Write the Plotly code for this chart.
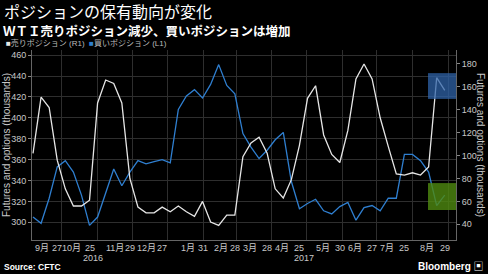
import plotly.graph_objects as go
import pandas as pd

# ---- data ----
dates = pd.date_range("2016-09-06", periods=52, freq="7D")

sell_positions = [102, 151, 142, 96, 71, 56, 56, 61, 146, 166, 163, 146, 80, 55,
                  50, 50, 55, 51, 56, 51, 47, 60, 42, 39, 48, 48, 99, 111, 116,
                  102, 71, 63, 79, 109, 150, 161, 118, 101, 94, 122, 167, 180,
                  167, 133, 108, 84, 83, 85, 83, 90, 168, 157]

buy_positions = [305, 299, 323, 353, 359, 348, 326, 297, 305, 328, 351, 335, 348,
                 359, 356, 358, 360, 357, 408, 421, 427, 419, 432, 451, 431, 423,
                 385, 372, 361, 369, 379, 386, 339, 313, 318, 322, 311, 308, 315,
                 319, 302, 314, 316, 311, 323, 323, 365, 365, 359, 348, 316, 326]

tick_dates = ["2016-09-14", "2016-09-27", "2016-10-09", "2016-10-25", "2016-11-16",
              "2016-11-29", "2016-12-13", "2016-12-27", "2017-01-18", "2017-01-31",
              "2017-02-16", "2017-02-28", "2017-03-13", "2017-03-28", "2017-04-10",
              "2017-04-25", "2017-05-15", "2017-05-30", "2017-06-12", "2017-06-27",
              "2017-07-10", "2017-07-25", "2017-08-14", "2017-08-29"]
tick_labels = ["9月", "27", "10月", "25", "11月", "29", "12月", "27", "1月", "31",
               "2月", "28", "3月", "28", "4月", "25", "5月", "30", "6月", "27",
               "7月", "25", "8月", "29"]

left_ticks = [300, 320, 340, 360, 380, 400, 420, 440, 460]
right_ticks = [40, 60, 80, 100, 120, 140, 160, 180]
year_labels = ["2016", "2017"]
year_dates = ["2016-10-28", "2017-04-29"]

FONT = "Arial, 'Liberation Sans', 'Noto Sans CJK JP', sans-serif"
JFONT = "'Noto Sans CJK JP', sans-serif"
TICKC = "#c8c8c8"
GRID = "#2e2e2e"

fig = go.Figure()
fig.add_trace(go.Scatter(x=dates, y=buy_positions, mode="lines",
                         line=dict(color="#2f7fd0", width=1.3),
                         name="買いポジション (L1)", yaxis="y"))
fig.add_trace(go.Scatter(x=dates, y=sell_positions, mode="lines",
                         line=dict(color="#e6e6e6", width=1.3),
                         name="売りポジション (R1)", yaxis="y2"))

W, H = 488, 274
L, R, T, B = 32, 32, 50, 34
PW, PH = W - L - R, H - T - B
xr = ["2016-09-05 03:00", "2017-09-07 18:00"]

fig.update_layout(
    width=W, height=H,
    margin=dict(l=L, r=R, t=T, b=B, pad=0, autoexpand=False),
    paper_bgcolor="black", plot_bgcolor="black",
    showlegend=False,
    font=dict(family=FONT, color=TICKC, size=10),
    xaxis=dict(type="date", range=xr, tickmode="array", tickvals=tick_dates,
               showticklabels=False, showgrid=False, zeroline=False,
               showline=True, linecolor="#666", linewidth=1, automargin=False,
               ticks=""),
    xaxis2=dict(type="date", range=xr, overlaying="x", matches="x",
                showgrid=True, gridcolor=GRID, gridwidth=1, automargin=False,
                dtick="M1", tick0="2016-09-01", showticklabels=False,
                ticks="", showline=False, zeroline=False),
    yaxis=dict(range=[283, 465], tickvals=left_ticks, showgrid=True,
               gridcolor=GRID, zeroline=False, showline=True, automargin=False,
               linecolor="#666", ticks="outside", ticklen=3, tickcolor="#888",
               tickfont=dict(size=9)),
    yaxis2=dict(range=[26.3, 192.2], tickvals=right_ticks, overlaying="y",
                side="right", showgrid=False, zeroline=False, showline=True,
                automargin=False,
                linecolor="#666", ticks="outside", ticklen=3, tickcolor="#888",
                tickfont=dict(size=9)),
)

# dummy trace for gridline axis
fig.add_trace(go.Scatter(x=[dates[0]], y=[None], xaxis="x2", yaxis="y",
                         showlegend=False, hoverinfo="skip"))

# last-value boxes
fig.add_shape(type="rect", xref="paper", yref="y2", x0=0.934, x1=1.0,
              y0=149.5, y1=172, fillcolor="#2f63a8", opacity=0.75,
              line=dict(width=0), layer="above")
fig.add_shape(type="rect", xref="paper", yref="y2", x0=0.934, x1=1.0,
              y0=52.5, y1=76, fillcolor="#4f8a10", opacity=0.8,
              line=dict(width=0), layer="above")

ann = []
ann.append(dict(x=-L / PW + 0.005, y=1 + 39 / PH, xref="paper",
                yref="paper", text="ポジションの保有動向が変化", showarrow=False,
                xanchor="left", yanchor="middle",
                font=dict(size=16, color="white", family=JFONT)))
ann.append(dict(x=-L / PW + 0.003, y=1 + 20 / PH, xref="paper",
                yref="paper", text="<b>ＷＴＩ売りポジション減少、買いポジションは増加</b>",
                showarrow=False, xanchor="left", yanchor="middle",
                font=dict(size=12.5, color="white", family=JFONT)))
ann.append(dict(x=-L / PW + 0.01, y=1 + 7.5 / PH, xref="paper",
                yref="paper",
                text="<span style='color:#e6e6e6'>■</span>売りポジション (R1)  "
                     "<span style='color:#2f7fd0'>■</span>買いポジション (L1)",
                showarrow=False, xanchor="left", yanchor="middle",
                font=dict(size=8, color="#bbbbbb", family=FONT)))
# axis titles
ann.append(dict(x=-26 / PW, y=0.5, xref="paper", yref="paper",
                text="Futures and options (thousands)", textangle=-90,
                showarrow=False, xanchor="center", yanchor="middle",
                font=dict(size=10, color=TICKC, family=FONT)))
ann.append(dict(x=1 + 25 / PW, y=0.5, xref="paper", yref="paper",
                text="Futures and options (thousands)", textangle=90,
                showarrow=False, xanchor="center", yanchor="middle",
                font=dict(size=10, color=TICKC, family=FONT)))
# x tick labels
for tl, td in zip(tick_labels, tick_dates):
    ann.append(dict(x=td, y=-8 / PH, xref="x", yref="paper", text=tl,
                    showarrow=False, xanchor="center", yanchor="middle",
                    font=dict(size=9, color=TICKC, family=FONT)))
for yl, yd in zip(year_labels, year_dates):
    ann.append(dict(x=yd, y=-18 / PH, xref="x", yref="paper", text=yl,
                    showarrow=False, xanchor="center", yanchor="middle",
                    font=dict(size=9, color=TICKC, family=FONT)))
ann.append(dict(x=-L / PW + 0.005, y=-27 / PH, xref="paper",
                yref="paper", text="<b>Source: CFTC</b>", showarrow=False,
                xanchor="left", yanchor="middle",
                font=dict(size=8.5, color="white", family=FONT)))
ann.append(dict(x=1 + 30 / PW, y=-26 / PH, xref="paper",
                yref="paper", text="<b>Bloomberg</b> ▣", showarrow=False,
                xanchor="right", yanchor="middle",
                font=dict(size=10, color="white", family=FONT)))
fig.update_layout(annotations=ann)

fig.write_html("out.html")
